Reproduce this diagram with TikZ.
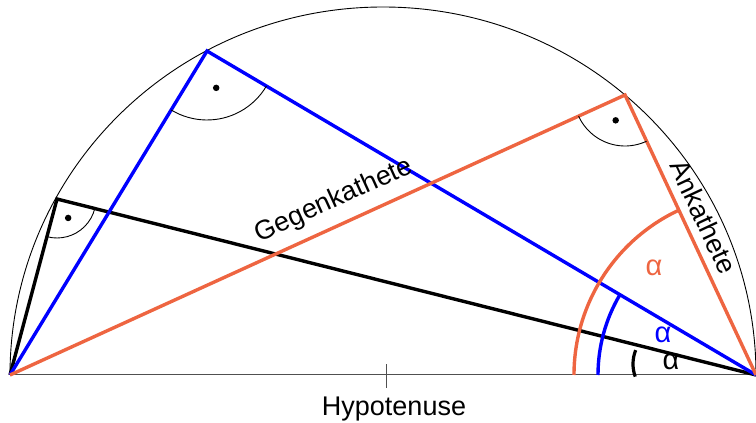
\documentclass[tikz,border=0pt]{standalone}
\usepackage{fontspec}
\setmainfont{Liberation Sans}
\definecolor{myorange}{RGB}{238,101,65}
\definecolor{myblue}{RGB}{0,0,255}
\definecolor{basegray}{RGB}{80,80,80}
\tikzset{
  tri/.style={line width=3.4pt, line join=miter},
  anglearc/.style={line width=3.4pt},
  rightarc/.style={line width=0.9pt, black},
  rdot/.style={circle, fill=black, inner sep=0pt, minimum size=6.5pt},
  lbl/.style={font=\fontsize{27}{32}\selectfont, inner sep=0pt},
  alab/.style={font=\fontsize{29}{33}\selectfont, inner sep=0pt},
}
\begin{document}
\begin{tikzpicture}[x=1pt,y=1pt]
\useasboundingbox (0,0) rectangle (756,423);
% key points
\coordinate (A) at (10,48);
\coordinate (B) at (756,48);
\coordinate (C1) at (57,224);
\coordinate (C2) at (207,372);
\coordinate (C3) at (625,328);
\coordinate (T1) at (386,35);
\coordinate (T2) at (386,59);
% Thales semicircle
\draw[line width=0.9pt] (B) arc[start angle=0,end angle=180,x radius=373,y radius=368];
% hypotenuse and centre tick
\draw[line width=1pt, basegray] (A) -- (B);
\draw[line width=1pt, basegray] (T1) -- (T2);
% triangles
\draw[tri, black] (A) -- (C1) -- (B);
\draw[tri, myblue] (A) -- (C2) -- (B);
\draw[tri, myorange] (A) -- (C3) -- (B);
% right angle marks
\draw[rightarc] ([shift={(255.05:39)}]C1) arc[start angle=255.05,end angle=345.87,radius=39];
\node[rdot] (d1) at ([shift={(300.5:22)}]C1) {};
\draw[rightarc] ([shift={(238.7:69)}]C2) arc[start angle=238.7,end angle=329.45,radius=69];
\node[rdot] (d2) at ([shift={(284:38)}]C2) {};
\draw[rightarc] ([shift={(204.48:51)}]C3) arc[start angle=204.48,end angle=295.07,radius=51];
\node[rdot] (d3) at ([shift={(249.8:27)}]C3) {};
% angle arcs at B
\draw[anglearc, myorange] ([shift={(180:182)}]B) arc[start angle=180,end angle=115.07,radius=182];
\draw[anglearc, myblue] ([shift={(180:158)}]B) arc[start angle=180,end angle=149.45,radius=158];
\coordinate (K) at (670,59);
\draw[line width=3.2pt, black] ([shift={(158:37)}]K) arc[start angle=158,end angle=200,radius=37];
% labels
\node[lbl, anchor=base] (hyp) at (394,7) {Hypotenuse};
\node[lbl, anchor=base, rotate=24.48] (geg) at (337,216) {Gegenkathete};
\node[lbl, anchor=base, rotate=-64.93] (ank) at (695,202) {Ankathete};
\node[alab, text=myorange] (a1) at (654,155.5) {α};
\node[alab, text=myblue] (a2) at (663,88) {α};
\node[alab, text=black] (a3) at (671,61) {α};
\end{tikzpicture}
\end{document}
